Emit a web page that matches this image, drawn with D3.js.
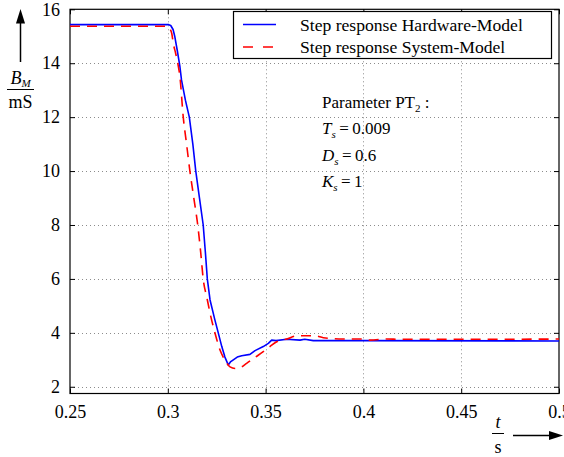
<!DOCTYPE html>
<html>
<head>
<meta charset="utf-8">
<script src="https://cdn.jsdelivr.net/npm/d3@7"></script>
<style>
  body { margin: 0; background: #fff; }
  svg text { font-family: "Liberation Serif", "Times New Roman", serif !important; fill: #000; }
</style>
</head>
<body>
<svg id="chart" width="564" height="457"></svg>
<script>
// Axis ticks
const xTicks = [0.25, 0.3, 0.35, 0.4, 0.45, 0.5];
const xTickLabels = ["0.25", "0.3", "0.35", "0.4", "0.45", "0.5"];
const yTicks = [2, 4, 6, 8, 10, 12, 14, 16];
const yTickLabels = ["2", "4", "6", "8", "10", "12", "14", "16"];

// Measured step response (hardware model), B_M in mS over t in s
const hwTime = [0.25, 0.3005, 0.3015, 0.3027, 0.3036, 0.3048, 0.3062, 0.3070, 0.3090, 0.3110,
  0.3128, 0.3143, 0.3162, 0.3181, 0.3192, 0.3202, 0.3216, 0.3240, 0.3258, 0.3276,
  0.3292, 0.3309, 0.3320, 0.3335, 0.3355, 0.3378, 0.3420, 0.3446, 0.3488, 0.3514,
  0.3531, 0.3553, 0.3608, 0.3676, 0.3700, 0.3744, 0.4000, 0.5];
const hwValue = [15.43, 15.43, 15.40, 15.25, 14.98, 14.49, 13.87, 13.38, 12.63, 12.0,
  11.0, 10.0, 9.0, 8.0, 7.0, 6.0, 5.22, 4.5, 4.0, 3.49,
  3.10, 2.81, 2.92, 3.0, 3.10, 3.15, 3.20, 3.34, 3.49, 3.61,
  3.73, 3.71, 3.76, 3.73, 3.76, 3.71, 3.71, 3.70];

// Simulated step response (PT2 system model)
const smTime = [0.25, 0.2998, 0.3005, 0.3020, 0.3028, 0.3040, 0.3051, 0.3062, 0.3079, 0.3096,
  0.3113, 0.3133, 0.3153, 0.3168, 0.3181, 0.3200, 0.3220, 0.3241, 0.3267, 0.3292,
  0.3318, 0.3344, 0.3369, 0.3403, 0.3446, 0.3488, 0.3522, 0.3557, 0.3608, 0.3659,
  0.3753, 0.3795, 0.3897, 0.3999, 0.4034, 0.4119, 0.4187, 0.45, 0.5];
const smValue = [15.37, 15.37, 15.33, 15.11, 14.74, 14.37, 14.0, 13.5, 12.0, 11.0,
  10.0, 9.0, 8.0, 7.0, 6.0, 5.3, 4.6, 4.0, 3.36, 2.99,
  2.74, 2.68, 2.71, 2.87, 3.09, 3.30, 3.49, 3.67, 3.77, 3.89,
  3.89, 3.82, 3.77, 3.77, 3.73, 3.77, 3.76, 3.76, 3.77];

const legendLabels = ["Step response Hardware-Model", "Step response System-Model"];
const seriesColors = ["#0000ff", "#ff0000"];
const serif = "'Liberation Serif', 'Times New Roman', serif";

const svg = d3.select("#chart").style("font-family", serif);
const plot = { left: 70, right: 559, top: 9.3, bottom: 393.5 };

const x = d3.scaleLinear().domain([0.25, 0.5]).range([plot.left, plot.right]);
const y = d3.scaleLinear().domain([1.75, 16]).range([plot.bottom, plot.top]);

// clip region for the curves
svg.append("defs").append("clipPath").attr("id", "clip")
  .append("rect")
  .attr("x", plot.left).attr("y", plot.top)
  .attr("width", plot.right - plot.left).attr("height", plot.bottom - plot.top);

// dotted grid
const grid = svg.append("g").attr("stroke", "#8c8c8c").attr("stroke-width", 1)
  .attr("stroke-dasharray", "1,3");
grid.selectAll("line.gx").data(xTicks.slice(1, -1)).join("line")
  .attr("x1", d => Math.round(x(d)) + 0.5).attr("x2", d => Math.round(x(d)) + 0.5)
  .attr("y1", plot.top).attr("y2", plot.bottom);
grid.selectAll("line.gy").data(yTicks.filter(d => d < 16)).join("line")
  .attr("y1", d => Math.round(y(d)) + 0.5).attr("y2", d => Math.round(y(d)) + 0.5)
  .attr("x1", plot.left).attr("x2", plot.right);

// axes: ticks pointing inward on all four sides
const tickLen = 5;
const axisBottom = d3.axisBottom(x).tickValues(xTicks).tickSize(-tickLen)
  .tickFormat((d, i) => xTickLabels[i]).tickPadding(12);
const axisTop = d3.axisTop(x).tickValues(xTicks).tickSize(-tickLen).tickFormat("");
const axisLeft = d3.axisLeft(y).tickValues(yTicks).tickSize(-tickLen)
  .tickFormat((d, i) => yTickLabels[i]).tickPadding(10);
const axisRight = d3.axisRight(y).tickValues(yTicks).tickSize(-tickLen).tickFormat("");

function styleAxis(g) {
  g.attr("font-family", serif).style("font-family", serif);
  g.select(".domain").remove();
  g.selectAll(".tick line").attr("stroke", "#000");
  g.selectAll(".tick text").attr("font-size", 18)
    .style("font-family", serif).attr("fill", "#000");
}
svg.append("g").attr("transform", `translate(0,${plot.bottom})`).call(axisBottom).call(styleAxis);
svg.append("g").attr("transform", `translate(0,${plot.top})`).call(axisTop).call(styleAxis);
svg.append("g").attr("transform", `translate(${plot.left},0)`).call(axisLeft).call(styleAxis);
svg.append("g").attr("transform", `translate(${plot.right},0)`).call(axisRight).call(styleAxis);

// frame
svg.append("rect")
  .attr("x", plot.left).attr("y", plot.top)
  .attr("width", plot.right - plot.left).attr("height", plot.bottom - plot.top)
  .attr("fill", "none").attr("stroke", "#000").attr("stroke-width", 1.2);

// curves
const hwData = hwTime.map((t, i) => [t, hwValue[i]]);
const smData = smTime.map((t, i) => [t, smValue[i]]);
const lineHw = d3.line().x(d => x(d[0])).y(d => y(d[1])).curve(d3.curveLinear);
const lineSm = d3.line().x(d => x(d[0])).y(d => y(d[1])).curve(d3.curveMonotoneX);

const curves = svg.append("g").attr("clip-path", "url(#clip)");
curves.append("path").datum(hwData).attr("d", lineHw)
  .attr("fill", "none").attr("stroke", seriesColors[0]).attr("stroke-width", 1.6)
  .attr("stroke-linejoin", "round");
curves.append("path").datum(smData).attr("d", lineSm)
  .attr("fill", "none").attr("stroke", seriesColors[1]).attr("stroke-width", 1.6)
  .attr("stroke-dasharray", "10,7");

// legend
const legend = svg.append("g");
legend.append("rect").attr("x", 233.5).attr("y", 11.5).attr("width", 318).attr("height", 47)
  .attr("fill", "#fff").attr("stroke", "#000").attr("stroke-width", 1.2);
legendLabels.forEach((label, i) => {
  const ly = 24.5 + i * 22.5;
  legend.append("line").attr("x1", 243).attr("x2", 276).attr("y1", ly).attr("y2", ly)
    .attr("stroke", seriesColors[i]).attr("stroke-width", 1.6)
    .attr("stroke-dasharray", i === 1 ? "10,10" : null);
  legend.append("text").attr("x", 300).attr("y", ly + 6).attr("font-size", 17.6).text(label);
});

// PT2 parameter annotation
const ann = svg.append("g").attr("font-size", 17);
const a0 = ann.append("text").attr("x", 322).attr("y", 108);
a0.append("tspan").text("Parameter PT");
a0.append("tspan").attr("font-size", 11).attr("dy", 4).text("2");
a0.append("tspan").attr("dy", -4).text(" :");
const params = [["T", "\u2009=\u20090.009"], ["D", "\u2009=\u20090.6"], ["K", "\u2009=\u20091"]];
params.forEach((p, i) => {
  const t = ann.append("text").attr("x", 322).attr("y", 134 + i * 26.5);
  t.append("tspan").attr("font-style", "italic").text(p[0]);
  t.append("tspan").attr("font-style", "italic").attr("font-size", 11).attr("dy", 4).text("s");
  t.append("tspan").attr("dy", -4).text(p[1]);
});

// y-axis label with upward arrow
svg.append("line").attr("x1", 20.5).attr("x2", 20.5).attr("y1", 62).attr("y2", 20)
  .attr("stroke", "#000").attr("stroke-width", 1.5);
svg.append("path").attr("d", "M20.5,9 L16,23.5 L25,23.5 Z").attr("fill", "#000");
const yl = svg.append("text").attr("x", 20.5).attr("y", 84).attr("text-anchor", "middle")
  .attr("font-size", 18);
yl.append("tspan").attr("font-style", "italic").text("B");
yl.append("tspan").attr("font-style", "italic").attr("font-size", 11).attr("dy", 3).text("M");
svg.append("line").attr("x1", 7).attr("x2", 34).attr("y1", 89.5).attr("y2", 89.5)
  .attr("stroke", "#000").attr("stroke-width", 1);
svg.append("text").attr("x", 20.5).attr("y", 108).attr("text-anchor", "middle")
  .attr("font-size", 18).text("mS");

// x-axis label with rightward arrow
svg.append("text").attr("x", 498).attr("y", 428).attr("text-anchor", "middle")
  .attr("font-size", 18).attr("font-style", "italic").text("t");
svg.append("line").attr("x1", 492).attr("x2", 504).attr("y1", 433.5).attr("y2", 433.5)
  .attr("stroke", "#000").attr("stroke-width", 1);
svg.append("text").attr("x", 498).attr("y", 453).attr("text-anchor", "middle")
  .attr("font-size", 18).text("s");
svg.append("line").attr("x1", 513).attr("x2", 550).attr("y1", 435.5).attr("y2", 435.5)
  .attr("stroke", "#000").attr("stroke-width", 1.5);
svg.append("path").attr("d", "M563,435.5 L549,431 L549,440 Z").attr("fill", "#000");
</script>
</body>
</html>
